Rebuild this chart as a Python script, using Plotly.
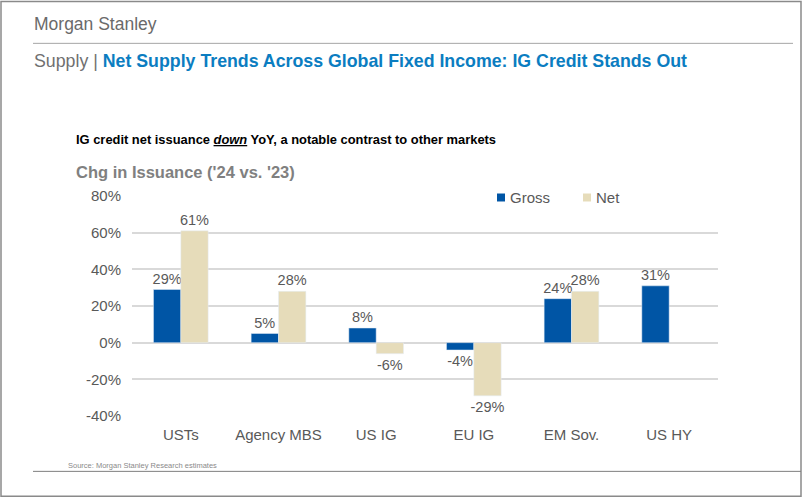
import plotly.graph_objects as go

categories = ["USTs", "Agency MBS", "US IG", "EU IG", "EM Sov.", "US HY"]
gross = [29, 5, 8, -4, 24, 31]
net = [61, 28, -6, -29, 28, None]
y_ticks = [-40, -20, 0, 20, 40, 60, 80]
y_tick_labels = [f"{v}%" for v in y_ticks]
series_names = ["Gross", "Net"]
series_colors = ["#0055A5", "#E6DCBA"]

W, H = 802, 498
L, R, T, B = 132, 718, 196, 416.5
FONT = "Arial, Liberation Sans, sans-serif"
GRAY = "#595959"

def px(x):
    return (x - L) / (R - L)

def py(y):
    return (B - y) / (B - T)

fig = go.Figure()
for name, vals, col in [(series_names[0], gross, series_colors[0]), (series_names[1], net, series_colors[1])]:
    fig.add_trace(go.Bar(
        name=name, x=categories, y=vals, marker_color=col,
        text=[f"{v}%" if v is not None else "" for v in vals], textposition="outside",
        cliponaxis=False, constraintext="none",
        textfont=dict(size=14.5, color=GRAY, family=FONT),
    ))

shapes = [
    dict(type="rect", xref="paper", yref="paper", x0=px(1), x1=px(801), y0=py(497), y1=py(1),
         line=dict(color="#8a8a8a", width=1.5), fillcolor="rgba(0,0,0,0)", layer="below"),
    dict(type="line", xref="paper", yref="paper", x0=px(33), x1=px(793), y0=py(43), y1=py(43),
         line=dict(color="#a6a6a6", width=1)),
    dict(type="line", xref="paper", yref="paper", x0=px(33), x1=px(801), y0=py(472), y1=py(472),
         line=dict(color="#7f7f7f", width=1)),
]

# manual legend
leg = [(497, 508, series_names[0], series_colors[0]), (583, 594, series_names[1], series_colors[1])]
annotations = []
for sx, tx, name, col in leg:
    shapes.append(dict(type="rect", xref="paper", yref="paper", x0=px(sx), x1=px(sx + 8),
                       y0=py(201.5), y1=py(193.5), line=dict(width=0), fillcolor=col))
    annotations.append(dict(text=name, x=px(tx), y=py(197.5), xref="paper", yref="paper",
                            xanchor="left", yanchor="middle", showarrow=False,
                            font=dict(size=15, color=GRAY, family=FONT)))

annotations += [
    dict(text="Morgan Stanley", x=px(32), y=py(24), xref="paper", yref="paper",
         xanchor="left", yanchor="middle", showarrow=False,
         font=dict(size=17.5, color="#6a6a6a", family=FONT)),
    dict(text="Supply | <b><span style='color:#0b7dc1'>Net Supply Trends Across Global Fixed Income: IG Credit Stands Out</span></b>",
         x=px(32), y=py(61), xref="paper", yref="paper",
         xanchor="left", yanchor="middle", showarrow=False,
         font=dict(size=17.75, color="#707070", family=FONT)),
    dict(text="<b>IG credit net issuance <i><u>down</u></i> YoY, a notable contrast to other markets</b>",
         x=px(74), y=py(139), xref="paper", yref="paper",
         xanchor="left", yanchor="middle", showarrow=False,
         font=dict(size=12.9, color="#000000", family=FONT)),
    dict(text="<b>Chg in Issuance ('24 vs. '23)</b>",
         x=px(74), y=py(172), xref="paper", yref="paper",
         xanchor="left", yanchor="middle", showarrow=False,
         font=dict(size=16.5, color="#808080", family=FONT)),
    dict(text="Source: Morgan Stanley Research estimates",
         x=px(66), y=py(466), xref="paper", yref="paper",
         xanchor="left", yanchor="middle", showarrow=False,
         font=dict(size=7.5, color="#8a8a8a", family=FONT)),
]

fig.update_layout(
    width=W, height=H,
    margin=dict(l=L, r=W - R, t=T, b=H - B, pad=0),
    paper_bgcolor="white", plot_bgcolor="white",
    barmode="group", bargap=0.44, bargroupgap=0,
    font=dict(family=FONT, color=GRAY, size=14),
    showlegend=False,
    xaxis=dict(showgrid=False, showline=False, ticks="", tickfont=dict(size=15, color=GRAY),
               ticklabelstandoff=8),
    yaxis=dict(range=[-40, 80], tickvals=y_ticks, ticktext=y_tick_labels,
               showgrid=True, gridcolor="#d9d9d9", gridwidth=1.5, zeroline=False,
               showline=False, ticks="", tickfont=dict(size=15, color=GRAY),
               ticklabelstandoff=10),
    shapes=shapes, annotations=annotations,
)

fig.write_html("out.html", config={"displayModeBar": False},
               post_script="document.body.style.margin='0';document.body.style.overflow='hidden';")
